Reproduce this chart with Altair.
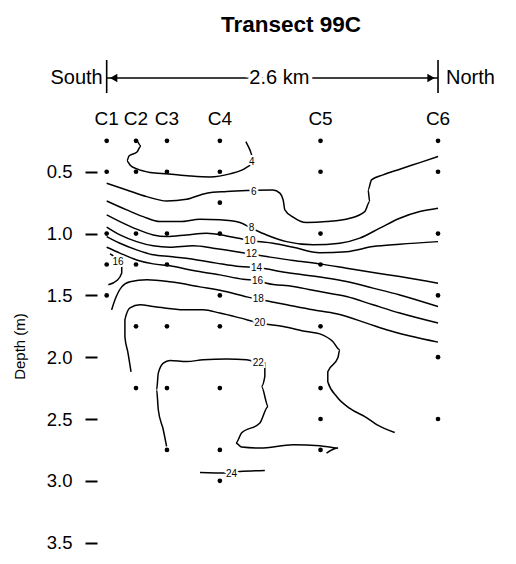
import altair as alt
import pandas as pd

# ---------------- data ----------------
stations = ["C1", "C2", "C3", "C4", "C5", "C6"]
station_km = [0.0, 0.23, 0.473, 0.888, 1.678, 2.6]

depths_C1 = [0.25, 0.5, 1.0, 1.25, 1.5]
depths_C2 = [0.25, 0.5, 1.0, 1.25, 1.75, 2.25]
depths_C3 = [0.25, 0.5, 1.0, 1.25, 1.75, 2.25, 2.75]
depths_C4 = [0.25, 0.5, 0.75, 1.0, 1.5, 1.75, 2.25, 2.75, 3.0]
depths_C5 = [0.25, 0.5, 1.0, 1.25, 1.75, 2.25, 2.5, 2.75]
depths_C6 = [0.25, 0.5, 1.0, 1.5, 2.0, 2.5]
sample_depths = [depths_C1, depths_C2, depths_C3, depths_C4, depths_C5, depths_C6]

# isolines (distance along transect in km, depth in m)
iso4_km = [0.238, 0.269, 0.238, 0.175, 0.159, 0.183, 0.238, 0.340, 0.481, 0.653, 0.810, 0.967, 1.092, 1.139, 1.147, 1.124, 1.092]
iso4_d = [0.243, 0.291, 0.340, 0.372, 0.412, 0.445, 0.477, 0.505, 0.517, 0.534, 0.542, 0.517, 0.469, 0.428, 0.380, 0.323, 0.256]

iso6_km = [0.000, 0.157, 0.314, 0.470, 0.627, 0.784, 0.941, 1.098, 1.304, 1.359, 1.385, 1.398, 1.463, 1.568, 1.725, 1.908, 2.025, 2.064, 2.051, 2.078, 2.169, 2.300, 2.457, 2.600]
iso6_d = [0.593, 0.647, 0.701, 0.736, 0.722, 0.673, 0.660, 0.652, 0.647, 0.673, 0.728, 0.808, 0.867, 0.911, 0.903, 0.876, 0.822, 0.741, 0.647, 0.566, 0.525, 0.479, 0.426, 0.377]

iso8_km = [0.000, 0.157, 0.287, 0.418, 0.575, 0.732, 0.888, 1.045, 1.137, 1.255, 1.411, 1.620, 1.829, 1.986, 2.143, 2.300, 2.457, 2.600]
iso8_d = [0.736, 0.808, 0.863, 0.903, 0.903, 0.884, 0.889, 0.911, 0.956, 1.011, 1.065, 1.091, 1.078, 1.037, 0.956, 0.876, 0.822, 0.795]

iso10_km = [0.000, 0.104, 0.235, 0.365, 0.470, 0.627, 0.784, 0.941, 1.071, 1.149, 1.306, 1.463, 1.672, 1.882, 2.090, 2.300, 2.600]
iso10_d = [0.849, 0.903, 0.964, 1.011, 1.024, 1.011, 0.997, 1.019, 1.045, 1.059, 1.078, 1.110, 1.154, 1.146, 1.105, 1.086, 1.065]

iso12_km = [0.000, 0.104, 0.235, 0.365, 0.497, 0.679, 0.836, 1.019, 1.137, 1.255, 1.463, 1.672, 1.882, 2.090, 2.300, 2.600]
iso12_d = [0.948, 1.011, 1.065, 1.099, 1.110, 1.099, 1.118, 1.146, 1.167, 1.186, 1.218, 1.245, 1.280, 1.315, 1.348, 1.401]

iso14_km = [0.000, 0.104, 0.235, 0.365, 0.497, 0.679, 0.862, 1.045, 1.176, 1.411, 1.672, 1.882, 2.090, 2.300, 2.600]
iso14_d = [1.024, 1.078, 1.132, 1.172, 1.186, 1.207, 1.239, 1.267, 1.275, 1.315, 1.352, 1.388, 1.441, 1.496, 1.590]

iso16_km = [0.000, 0.104, 0.235, 0.365, 0.497, 0.679, 0.888, 1.071, 1.184, 1.255, 1.463, 1.672, 1.882, 2.090, 2.300, 2.600]
iso16_d = [1.110, 1.158, 1.213, 1.245, 1.261, 1.299, 1.334, 1.369, 1.380, 1.401, 1.428, 1.469, 1.509, 1.576, 1.643, 1.724]

iso16b_km = [0.026, 0.065, 0.089, 0.118, 0.118, 0.080, 0.013]
iso16b_d = [1.164, 1.193, 1.229, 1.265, 1.318, 1.380, 1.414]

iso18_km = [0.039, 0.065, 0.118, 0.183, 0.316, 0.497, 0.732, 0.943, 1.100, 1.189, 1.414, 1.618, 1.803, 2.039, 2.195, 2.600]
iso18_d = [1.617, 1.536, 1.431, 1.390, 1.374, 1.390, 1.431, 1.471, 1.512, 1.530, 1.576, 1.617, 1.649, 1.724, 1.778, 1.878]

iso20_km = [0.191, 0.167, 0.143, 0.143, 0.183, 0.261, 0.365, 0.470, 0.627, 0.757, 0.888, 1.045, 1.202, 1.385, 1.568, 1.672, 1.774, 1.829, 1.814, 1.735, 1.735, 1.806, 1.908, 2.041, 2.119, 2.260]
iso20_d = [2.118, 1.964, 1.835, 1.698, 1.601, 1.576, 1.590, 1.603, 1.617, 1.617, 1.643, 1.682, 1.724, 1.752, 1.792, 1.811, 1.873, 1.940, 2.005, 2.118, 2.199, 2.320, 2.414, 2.490, 2.546, 2.609]

iso22_km = [0.470, 0.444, 0.405, 0.392, 0.405, 0.444, 0.497, 0.627, 0.757, 0.941, 1.098, 1.189, 1.241, 1.241, 1.215, 1.267, 1.202, 1.058, 1.014, 1.058, 1.202, 1.463, 1.672, 1.816, 1.725]
iso22_d = [2.722, 2.587, 2.425, 2.264, 2.129, 2.048, 2.026, 2.035, 2.021, 2.015, 2.021, 2.043, 2.048, 2.156, 2.237, 2.399, 2.533, 2.614, 2.694, 2.727, 2.735, 2.708, 2.716, 2.735, 2.775]

iso24_km = [0.732, 0.941, 1.045, 1.241]
iso24_d = [2.932, 2.937, 2.924, 2.916]

isolines = [
    ("4", iso4_km, iso4_d), ("6", iso6_km, iso6_d), ("8", iso8_km, iso8_d),
    ("10", iso10_km, iso10_d), ("12", iso12_km, iso12_d), ("14", iso14_km, iso14_d),
    ("16", iso16_km, iso16_d), ("16b", iso16b_km, iso16b_d), ("18", iso18_km, iso18_d),
    ("20", iso20_km, iso20_d), ("22", iso22_km, iso22_d), ("24", iso24_km, iso24_d),
]

label_text = ["4", "6", "8", "10", "12", "14", "16", "18", "20", "22", "24", "16"]
label_km = [1.139, 1.155, 1.137, 1.124, 1.137, 1.176, 1.184, 1.189, 1.202, 1.189, 0.980, 0.089]
label_depth = [0.420, 0.660, 0.956, 1.059, 1.167, 1.275, 1.380, 1.530, 1.724, 2.043, 2.943, 1.229]

chart_title = "Transect 99C"
transect_ends_km = [0.0, 2.6]
end_names = ["South", "North"]
span_text = "2.6 km"
depth_ticks = [0.5, 1.0, 1.5, 2.0, 2.5, 3.0, 3.5]

# ---------------- tables ----------------
dots = pd.DataFrame(
    [{"station": s, "km": k, "depth": d}
     for s, k, ds in zip(stations, station_km, sample_depths) for d in ds]
)
lines = pd.DataFrame(
    [{"iso": name, "i": i, "km": k, "depth": d}
     for name, ks, dd in isolines for i, (k, d) in enumerate(zip(ks, dd))]
)
labels = pd.DataFrame({"text": label_text, "km": label_km, "depth": label_depth})
st = pd.DataFrame({"station": stations, "km": station_km})
ends = pd.DataFrame({"name": end_names, "km": transect_ends_km})
span = pd.DataFrame({"km0": [transect_ends_km[0]], "km1": [transect_ends_km[1]],
                     "mid": [(transect_ends_km[0] + transect_ends_km[1]) / 2], "text": [span_text]})
ttl = pd.DataFrame({"text": [chart_title]})

FONT = "Liberation Sans"
W, H = 392, 515
xs = alt.Scale(domain=[-0.076, 3.0])
ys = alt.Scale(domain=[-0.566, 3.6], reverse=True)
X = alt.X("km:Q", scale=xs, axis=None)
Y = alt.Y("depth:Q", scale=ys, axis=alt.Axis(
    values=depth_ticks, format=".1f", labelFont=FONT, labelFontSize=18.5, labelColor="black",
    tickSize=12, tickWidth=2, tickColor="black", domain=False, grid=False, labelPadding=13,
    title="Depth (m)", titleFont=FONT, titleFontSize=15, titleFontWeight="normal",
    titleColor="black", titleX=-70, titleY=306, titleAngle=270, titleAlign="center",
    titleBaseline="bottom"))

title_txt = alt.Chart(ttl).mark_text(
    font=FONT, fontSize=22.5, fontWeight="bold", color="black", baseline="alphabetic").encode(
    x=alt.value(W / 2 - 2), y=alt.value(-8), text="text:N")
end_rules = alt.Chart(ends).mark_rule(color="black", strokeWidth=1.6).encode(
    x=X, y=alt.value(20), y2=alt.value(53))
arrow_line = alt.Chart(span).mark_rule(color="black", strokeWidth=1.3).encode(
    x=alt.X("km0:Q", scale=xs, axis=None), x2="km1:Q", y=alt.value(38))
arrow_l = alt.Chart(ends.iloc[[0]]).mark_point(
    shape="triangle-left", filled=True, color="black", size=70, opacity=1, xOffset=7).encode(
    x=X, y=alt.value(38))
arrow_r = alt.Chart(ends.iloc[[1]]).mark_point(
    shape="triangle-right", filled=True, color="black", size=70, opacity=1, xOffset=-7).encode(
    x=X, y=alt.value(38))
span_halo = alt.Chart(span).mark_text(
    font=FONT, fontSize=20, color="white", stroke="white", strokeWidth=8, dx=7, baseline="middle").encode(
    x=alt.X("mid:Q", scale=xs, axis=None), y=alt.value(38), text="text:N")
span_txt = alt.Chart(span).mark_text(
    font=FONT, fontSize=20, color="black", dx=7, baseline="middle").encode(
    x=alt.X("mid:Q", scale=xs, axis=None), y=alt.value(38), text="text:N")
south = alt.Chart(ends.iloc[[0]]).mark_text(
    font=FONT, fontSize=20, color="black", align="right", dx=-4, baseline="middle").encode(
    x=X, y=alt.value(38), text="name:N")
north = alt.Chart(ends.iloc[[1]]).mark_text(
    font=FONT, fontSize=20, color="black", align="left", dx=8, baseline="middle").encode(
    x=X, y=alt.value(38), text="name:N")
st_labels = alt.Chart(st).mark_text(
    font=FONT, fontSize=19, color="black", baseline="middle").encode(
    x=X, y=alt.value(79), text="station:N")

iso = alt.Chart(lines).mark_line(color="black", strokeWidth=1.5, interpolate="monotone").encode(
    x=X, y=Y, detail="iso:N", order="i:Q")
lab_halo = alt.Chart(labels).mark_text(
    font=FONT, fontSize=10, color="white", stroke="white", strokeWidth=4, baseline="middle").encode(
    x=X, y=Y, text="text:N")
lab = alt.Chart(labels).mark_text(
    font=FONT, fontSize=10, color="black", baseline="middle").encode(
    x=X, y=Y, text="text:N")

pts = alt.Chart(dots).mark_circle(color="black", size=22, opacity=1).encode(x=X, y=Y)

chart = alt.layer(
    title_txt, end_rules, arrow_line, arrow_l, arrow_r, span_halo, span_txt, south, north,
    st_labels, iso, lab_halo, lab, pts
).properties(
    width=W, height=H,
    autosize=alt.AutoSizeParams(type="none"),
    padding={"left": 89, "top": 32, "right": 10, "bottom": 5},
).configure(background="white").configure_view(stroke=None)

chart.save("out.html", embed_options={"renderer": "svg", "actions": False})
